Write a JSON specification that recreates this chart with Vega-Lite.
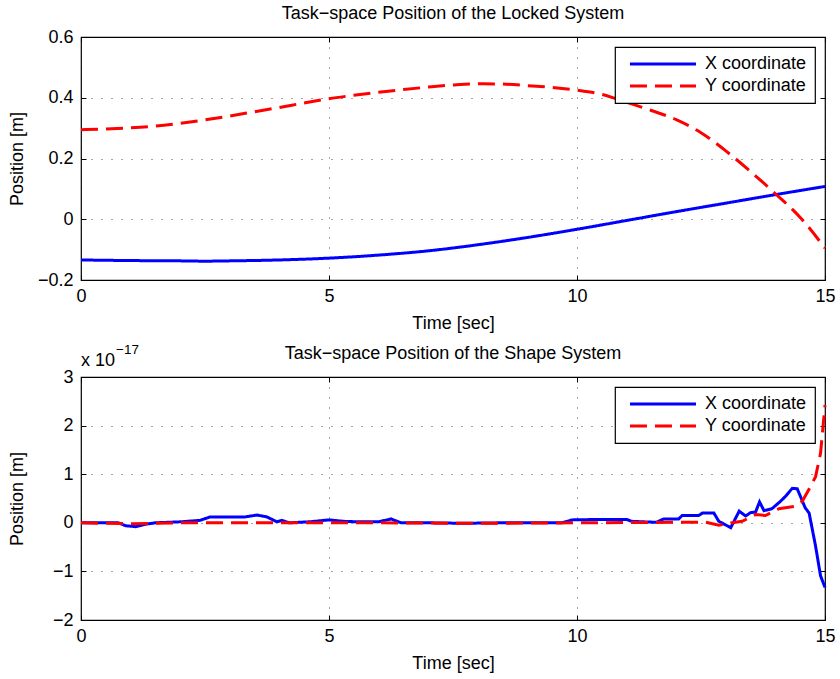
{
  "$schema": "https://vega.github.io/schema/vega-lite/v6.json",
  "background": "white",
  "padding": {"left": 7, "top": 4, "right": 5, "bottom": 2},
  "config": {
    "font": "Liberation Sans",
    "view": {"stroke": "black", "strokeWidth": 1.2},
    "axis": {
      "domain": false,
      "grid": true,
      "gridDash": [1, 9],
      "gridColor": "#000000",
      "gridOpacity": 0.7,
      "tickColor": "#000000",
      "tickSize": -5,
      "labelPadding": 12,
      "labelFlush": false,
      "labelFontSize": 18,
      "labelColor": "#000000",
      "titleFontSize": 18,
      "titleFontWeight": "normal",
      "titleColor": "#000000"
    },
    "title": {"fontSize": 18, "fontWeight": "normal", "color": "#000000"},
    "legend": {
      "orient": "top-right",
      "offset": 10,
      "strokeColor": "#000000",
      "strokeWidth": 1.2,
      "fillColor": "#ffffff",
      "padding": 8,
      "labelFontSize": 18,
      "labelColor": "#000000",
      "symbolType": "M-0.29,0H9.14",
      "symbolSize": 196,
      "symbolStrokeWidth": 3,
      "labelOffset": 64,
      "rowPadding": 4
    }
  },
  "datasets": {
    "locked": [
      {"t": 0, "series": "X coordinate", "pos": -0.134},
      {"t": 1, "series": "X coordinate", "pos": -0.136},
      {"t": 2, "series": "X coordinate", "pos": -0.137},
      {"t": 2.5, "series": "X coordinate", "pos": -0.138},
      {"t": 3, "series": "X coordinate", "pos": -0.137},
      {"t": 4, "series": "X coordinate", "pos": -0.134},
      {"t": 5, "series": "X coordinate", "pos": -0.128},
      {"t": 6, "series": "X coordinate", "pos": -0.118},
      {"t": 7, "series": "X coordinate", "pos": -0.104},
      {"t": 8, "series": "X coordinate", "pos": -0.084},
      {"t": 9, "series": "X coordinate", "pos": -0.060},
      {"t": 10, "series": "X coordinate", "pos": -0.033},
      {"t": 11, "series": "X coordinate", "pos": -0.004},
      {"t": 12, "series": "X coordinate", "pos": 0.025},
      {"t": 13, "series": "X coordinate", "pos": 0.053},
      {"t": 14, "series": "X coordinate", "pos": 0.081},
      {"t": 15, "series": "X coordinate", "pos": 0.108},
      {"t": 0, "series": "Y coordinate", "pos": 0.295},
      {"t": 0.5, "series": "Y coordinate", "pos": 0.297},
      {"t": 1, "series": "Y coordinate", "pos": 0.301},
      {"t": 1.5, "series": "Y coordinate", "pos": 0.307},
      {"t": 2, "series": "Y coordinate", "pos": 0.316},
      {"t": 2.5, "series": "Y coordinate", "pos": 0.327},
      {"t": 3, "series": "Y coordinate", "pos": 0.340},
      {"t": 3.5, "series": "Y coordinate", "pos": 0.354},
      {"t": 4, "series": "Y coordinate", "pos": 0.368},
      {"t": 4.5, "series": "Y coordinate", "pos": 0.383},
      {"t": 5, "series": "Y coordinate", "pos": 0.397},
      {"t": 5.5, "series": "Y coordinate", "pos": 0.408},
      {"t": 6, "series": "Y coordinate", "pos": 0.418},
      {"t": 6.5, "series": "Y coordinate", "pos": 0.427},
      {"t": 7, "series": "Y coordinate", "pos": 0.435},
      {"t": 7.5, "series": "Y coordinate", "pos": 0.442},
      {"t": 8, "series": "Y coordinate", "pos": 0.446},
      {"t": 8.5, "series": "Y coordinate", "pos": 0.445},
      {"t": 9, "series": "Y coordinate", "pos": 0.440},
      {"t": 9.5, "series": "Y coordinate", "pos": 0.434},
      {"t": 10, "series": "Y coordinate", "pos": 0.425},
      {"t": 10.5, "series": "Y coordinate", "pos": 0.411},
      {"t": 11, "series": "Y coordinate", "pos": 0.385},
      {"t": 11.5, "series": "Y coordinate", "pos": 0.358},
      {"t": 12, "series": "Y coordinate", "pos": 0.328},
      {"t": 12.5, "series": "Y coordinate", "pos": 0.285},
      {"t": 13, "series": "Y coordinate", "pos": 0.225},
      {"t": 13.5, "series": "Y coordinate", "pos": 0.157},
      {"t": 14, "series": "Y coordinate", "pos": 0.084},
      {"t": 14.5, "series": "Y coordinate", "pos": 0.006},
      {"t": 15, "series": "Y coordinate", "pos": -0.095}
    ],
    "shape": [
      {"t": 0, "series": "X coordinate", "pos": 0},
      {"t": 0.75, "series": "X coordinate", "pos": 0},
      {"t": 0.9, "series": "X coordinate", "pos": -0.06e-17},
      {"t": 1.1, "series": "X coordinate", "pos": -0.08e-17},
      {"t": 1.3, "series": "X coordinate", "pos": -0.03e-17},
      {"t": 1.5, "series": "X coordinate", "pos": 0},
      {"t": 2.0, "series": "X coordinate", "pos": 0.02e-17},
      {"t": 2.4, "series": "X coordinate", "pos": 0.05e-17},
      {"t": 2.6, "series": "X coordinate", "pos": 0.12e-17},
      {"t": 3.0, "series": "X coordinate", "pos": 0.12e-17},
      {"t": 3.3, "series": "X coordinate", "pos": 0.12e-17},
      {"t": 3.55, "series": "X coordinate", "pos": 0.16e-17},
      {"t": 3.75, "series": "X coordinate", "pos": 0.12e-17},
      {"t": 3.95, "series": "X coordinate", "pos": 0.02e-17},
      {"t": 4.05, "series": "X coordinate", "pos": 0.05e-17},
      {"t": 4.2, "series": "X coordinate", "pos": 0},
      {"t": 4.6, "series": "X coordinate", "pos": 0.02e-17},
      {"t": 5.0, "series": "X coordinate", "pos": 0.06e-17},
      {"t": 5.3, "series": "X coordinate", "pos": 0.03e-17},
      {"t": 5.6, "series": "X coordinate", "pos": 0.02e-17},
      {"t": 6.0, "series": "X coordinate", "pos": 0.02e-17},
      {"t": 6.25, "series": "X coordinate", "pos": 0.08e-17},
      {"t": 6.45, "series": "X coordinate", "pos": 0},
      {"t": 7.0, "series": "X coordinate", "pos": 0},
      {"t": 7.7, "series": "X coordinate", "pos": -0.01e-17},
      {"t": 8.5, "series": "X coordinate", "pos": 0},
      {"t": 9.7, "series": "X coordinate", "pos": 0},
      {"t": 9.9, "series": "X coordinate", "pos": 0.06e-17},
      {"t": 10.5, "series": "X coordinate", "pos": 0.07e-17},
      {"t": 11.0, "series": "X coordinate", "pos": 0.07e-17},
      {"t": 11.1, "series": "X coordinate", "pos": 0.03e-17},
      {"t": 11.6, "series": "X coordinate", "pos": 0.01e-17},
      {"t": 11.75, "series": "X coordinate", "pos": 0.08e-17},
      {"t": 12.05, "series": "X coordinate", "pos": 0.08e-17},
      {"t": 12.12, "series": "X coordinate", "pos": 0.15e-17},
      {"t": 12.45, "series": "X coordinate", "pos": 0.15e-17},
      {"t": 12.53, "series": "X coordinate", "pos": 0.2e-17},
      {"t": 12.76, "series": "X coordinate", "pos": 0.2e-17},
      {"t": 12.86, "series": "X coordinate", "pos": 0.03e-17},
      {"t": 13.1, "series": "X coordinate", "pos": -0.1e-17},
      {"t": 13.27, "series": "X coordinate", "pos": 0.24e-17},
      {"t": 13.4, "series": "X coordinate", "pos": 0.14e-17},
      {"t": 13.5, "series": "X coordinate", "pos": 0.21e-17},
      {"t": 13.6, "series": "X coordinate", "pos": 0.22e-17},
      {"t": 13.68, "series": "X coordinate", "pos": 0.43e-17},
      {"t": 13.77, "series": "X coordinate", "pos": 0.25e-17},
      {"t": 13.93, "series": "X coordinate", "pos": 0.29e-17},
      {"t": 14.1, "series": "X coordinate", "pos": 0.44e-17},
      {"t": 14.2, "series": "X coordinate", "pos": 0.54e-17},
      {"t": 14.34, "series": "X coordinate", "pos": 0.71e-17},
      {"t": 14.44, "series": "X coordinate", "pos": 0.70e-17},
      {"t": 14.6, "series": "X coordinate", "pos": 0.31e-17},
      {"t": 14.68, "series": "X coordinate", "pos": 0.2e-17},
      {"t": 14.81, "series": "X coordinate", "pos": -0.48e-17},
      {"t": 14.91, "series": "X coordinate", "pos": -1.09e-17},
      {"t": 15, "series": "X coordinate", "pos": -1.33e-17},
      {"t": 0, "series": "Y coordinate", "pos": 0},
      {"t": 1, "series": "Y coordinate", "pos": -0.02e-17},
      {"t": 2, "series": "Y coordinate", "pos": 0},
      {"t": 4, "series": "Y coordinate", "pos": 0},
      {"t": 6, "series": "Y coordinate", "pos": 0},
      {"t": 8, "series": "Y coordinate", "pos": -0.01e-17},
      {"t": 10, "series": "Y coordinate", "pos": 0},
      {"t": 12, "series": "Y coordinate", "pos": 0.01e-17},
      {"t": 12.6, "series": "Y coordinate", "pos": 0.01e-17},
      {"t": 12.86, "series": "Y coordinate", "pos": -0.05e-17},
      {"t": 13.06, "series": "Y coordinate", "pos": -0.01e-17},
      {"t": 13.33, "series": "Y coordinate", "pos": 0.03e-17},
      {"t": 13.6, "series": "Y coordinate", "pos": 0.17e-17},
      {"t": 13.8, "series": "Y coordinate", "pos": 0.15e-17},
      {"t": 14.07, "series": "Y coordinate", "pos": 0.29e-17},
      {"t": 14.4, "series": "Y coordinate", "pos": 0.34e-17},
      {"t": 14.54, "series": "Y coordinate", "pos": 0.44e-17},
      {"t": 14.71, "series": "Y coordinate", "pos": 0.75e-17},
      {"t": 14.81, "series": "Y coordinate", "pos": 0.95e-17},
      {"t": 14.91, "series": "Y coordinate", "pos": 1.43e-17},
      {"t": 15, "series": "Y coordinate", "pos": 2.42e-17}
    ]
  },
  "vconcat": [
    {
      "title": {"text": "Task−space Position of the Locked System", "offset": 5},
      "width": 744,
      "height": 243,
      "data": {"name": "locked"},
      "layer": [
        {
          "transform": [{"filter": "datum.series === 'X coordinate'"}],
          "mark": {"type": "line", "strokeWidth": 3, "strokeCap": "butt", "interpolate": "monotone"},
          "encoding": {
            "x": {"field": "t", "type": "quantitative", "scale": {"domain": [0, 15], "nice": false}, "axis": {"orient": "bottom", "values": [0, 5, 10, 15], "title": "Time [sec]", "titlePadding": 9}},
            "y": {"field": "pos", "type": "quantitative", "scale": {"domain": [-0.2, 0.6], "nice": false, "zero": false}, "axis": {"orient": "left", "values": [-0.2, 0, 0.2, 0.4, 0.6], "format": ".1~f", "title": "Position [m]", "titlePadding": 11, "labelPadding": 13}},
            "color": {"field": "series", "type": "nominal", "scale": {"domain": ["X coordinate", "Y coordinate"], "range": ["#0000ff", "#ff0000"]}, "title": null},
            "strokeDash": {"field": "series", "type": "nominal", "scale": {"domain": ["X coordinate", "Y coordinate"], "range": [[1, 0], [17, 8]]}, "title": null}
          }
        },
        {
          "transform": [{"filter": "datum.series === 'Y coordinate'"}],
          "mark": {"type": "line", "strokeWidth": 3, "strokeCap": "butt", "interpolate": "monotone"},
          "encoding": {
            "x": {"field": "t", "type": "quantitative", "axis": {"orient": "top", "values": [0, 5, 10, 15], "labels": false, "grid": false, "title": null}},
            "y": {"field": "pos", "type": "quantitative", "axis": {"orient": "right", "values": [-0.2, 0, 0.2, 0.4, 0.6], "labels": false, "grid": false, "title": null}},
            "color": {"field": "series", "type": "nominal", "title": null},
            "strokeDash": {"field": "series", "type": "nominal", "title": null}
          }
        }
      ],
      "resolve": {"axis": {"x": "independent", "y": "independent"}}
    },
    {
      "title": {"text": "Task−space Position of the Shape System", "offset": -20},
      "width": 744,
      "height": 243,
      "data": {"name": "shape"},
      "layer": [
        {
          "transform": [{"filter": "datum.series === 'X coordinate'"}],
          "mark": {"type": "line", "strokeWidth": 3, "strokeCap": "butt"},
          "encoding": {
            "x": {"field": "t", "type": "quantitative", "scale": {"domain": [0, 15], "nice": false}, "axis": {"orient": "bottom", "values": [0, 5, 10, 15], "title": "Time [sec]", "titlePadding": 9}},
            "y": {"field": "pos", "type": "quantitative", "scale": {"domain": [-2e-17, 3e-17], "nice": false, "zero": false}, "axis": {"orient": "left", "values": [-2e-17, -1e-17, 0, 1e-17, 2e-17, 3e-17], "labelExpr": "format(datum.value * 1e17, '.0f')", "title": "Position [m]", "titlePadding": 26, "labelPadding": 13}},
            "color": {"field": "series", "type": "nominal", "scale": {"domain": ["X coordinate", "Y coordinate"], "range": ["#0000ff", "#ff0000"]}, "title": null},
            "strokeDash": {"field": "series", "type": "nominal", "scale": {"domain": ["X coordinate", "Y coordinate"], "range": [[1, 0], [17, 8]]}, "title": null}
          }
        },
        {
          "transform": [{"filter": "datum.series === 'Y coordinate'"}],
          "mark": {"type": "line", "strokeWidth": 3, "strokeCap": "butt"},
          "encoding": {
            "x": {"field": "t", "type": "quantitative", "axis": {"orient": "top", "values": [0, 5, 10, 15], "labels": false, "grid": false, "title": null}},
            "y": {"field": "pos", "type": "quantitative", "axis": {"orient": "right", "values": [-2e-17, -1e-17, 0, 1e-17, 2e-17, 3e-17], "labels": false, "grid": false, "title": null}},
            "color": {"field": "series", "type": "nominal", "title": null},
            "strokeDash": {"field": "series", "type": "nominal", "title": null}
          }
        },
        {
          "data": {"values": [{"label": "x 10"}]},
          "mark": {"type": "text", "align": "left", "baseline": "alphabetic", "fontSize": 18, "dy": -11},
          "encoding": {
            "text": {"field": "label"},
            "x": {"datum": 0, "type": "quantitative", "axis": null},
            "y": {"datum": 3e-17, "type": "quantitative", "axis": null}
          }
        },
        {
          "data": {"values": [{"label": "−17"}]},
          "mark": {"type": "text", "align": "left", "baseline": "alphabetic", "fontSize": 13.5, "dx": 35, "dy": -23},
          "encoding": {
            "text": {"field": "label"},
            "x": {"datum": 0, "type": "quantitative", "axis": null},
            "y": {"datum": 3e-17, "type": "quantitative", "axis": null}
          }
        }
      ],
      "resolve": {"axis": {"x": "independent", "y": "independent"}}
    }
  ],
  "spacing": 9,
  "resolve": {
    "scale": {"color": "independent", "strokeDash": "independent", "x": "independent", "y": "independent"},
    "legend": {"color": "independent", "strokeDash": "independent"}
  }
}
